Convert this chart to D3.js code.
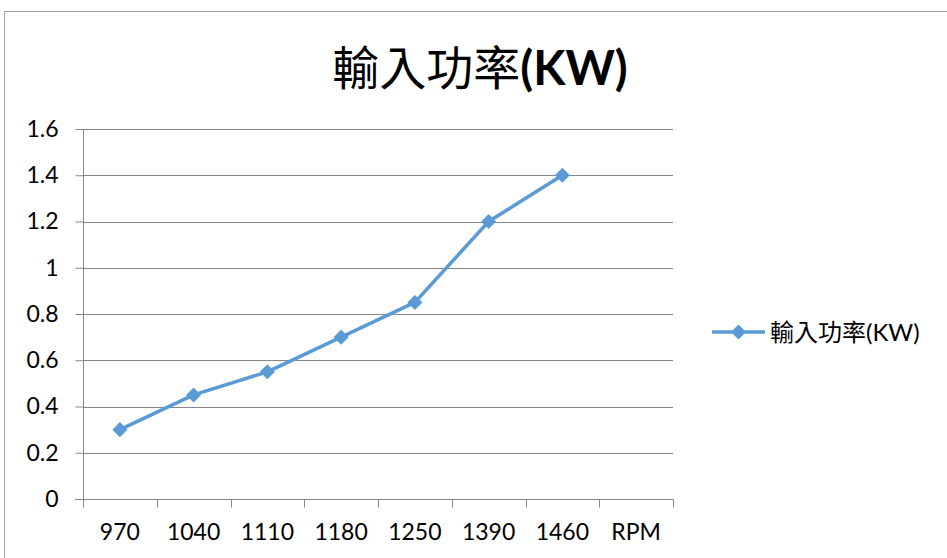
<html>

<head>
  <title>輸入功率(KW)</title>
  <meta charset="utf-8">
  <script type="text/javascript" src="https://cdn.jsdelivr.net/npm/d3@7"></script>

  <style type="text/css">
    body { margin: 0; background: #fff; }
    svg { font-family: Lato, "Noto Sans CJK TC", sans-serif; }
    .grid line { stroke: #868686; stroke-width: 1; }
    .axis path, .axis line { stroke: #868686; stroke-width: 1; }
    .axis text { fill: #000; font-size: 23px; font-family: Lato, sans-serif; }
    .line {
      fill: none;
      stroke: #5b9bd5;
      stroke-width: 3.5;
      stroke-linejoin: round;
    }
  </style>
</head>

<body>
  <script>
  // Data
  const categories = ["970", "1040", "1110", "1180", "1250", "1390", "1460", "RPM"];
  const values = [0.3, 0.45, 0.55, 0.7, 0.85, 1.2, 1.4];
  const yTicks = [0, 0.2, 0.4, 0.6, 0.8, 1, 1.2, 1.4, 1.6];
  const seriesName = "輸入功率(KW)";

  const w = 947;
  const h = 558;
  const plotLeft = 83, plotRight = 673, plotTop = 129, plotBottom = 499;

  const dataset = values.map(function(v, i) { return { cat: categories[i], value: v }; });

  const xScale = d3.scaleBand()
    .domain(categories)
    .range([plotLeft, plotRight]);

  const yScale = d3.scaleLinear()
    .domain([0, 1.6])
    .range([plotBottom, plotTop]);

  const svg = d3.select("body")
    .append("svg")
    .attr("width", w)
    .attr("height", h);

  // Chart border
  svg.append("rect")
    .attr("x", 4.5)
    .attr("y", 11.5)
    .attr("width", 960)
    .attr("height", 600)
    .attr("fill", "none")
    .attr("stroke", "#a6a6a6")
    .attr("stroke-width", 1);

  // Gridlines
  svg.append("g")
    .attr("class", "grid")
    .selectAll("line")
    .data(yTicks.slice(1))
    .enter()
    .append("line")
    .attr("x1", plotLeft)
    .attr("x2", plotRight)
    .attr("y1", function(d) { return Math.round(yScale(d)) + 0.5; })
    .attr("y2", function(d) { return Math.round(yScale(d)) + 0.5; });

  // Y axis
  const yAxis = d3.axisLeft(yScale)
    .tickValues(yTicks)
    .tickSize(8)
    .tickPadding(17)
    .tickFormat(function(d) { return String(d); });

  svg.append("g")
    .attr("class", "axis")
    .attr("transform", "translate(" + (plotLeft + 0.5) + ",0)")
    .call(yAxis)
    .call(function(g) { g.select(".domain").attr("d", "M0," + plotTop + "V" + (plotBottom + 0.5)); });

  // X axis (ticks at band boundaries)
  const xAxis = d3.axisBottom(xScale)
    .tickSize(0)
    .tickPadding(24);

  const gx = svg.append("g")
    .attr("class", "axis")
    .attr("transform", "translate(0," + (plotBottom + 0.5) + ")")
    .call(xAxis);
  gx.select(".domain").attr("d", "M" + (plotLeft - 8) + ",0H" + plotRight);
  gx.selectAll(".boundary")
    .data(categories.concat([null]))
    .enter()
    .append("line")
    .attr("class", "boundary")
    .attr("x1", function(d, i) { return Math.round(plotLeft + i * xScale.bandwidth()) + 0.5; })
    .attr("x2", function(d, i) { return Math.round(plotLeft + i * xScale.bandwidth()) + 0.5; })
    .attr("y1", 0)
    .attr("y2", 8);

  // Line
  const line = d3.line()
    .x(function(d) { return xScale(d.cat) + xScale.bandwidth() / 2; })
    .y(function(d) { return yScale(d.value); });

  svg.append("path")
    .datum(dataset)
    .attr("class", "line")
    .attr("d", line);

  const diamond = d3.symbol().type(d3.symbolDiamond2).size(145);

  svg.selectAll(".marker")
    .data(dataset)
    .enter()
    .append("path")
    .attr("class", "marker")
    .attr("d", diamond)
    .attr("fill", "#5b9bd5")
    .attr("transform", function(d) {
      return "translate(" + (xScale(d.cat) + xScale.bandwidth() / 2) + "," + yScale(d.value) + ")";
    });

  // Title
  svg.append("text")
    .attr("x", 480)
    .attr("y", 85)
    .attr("text-anchor", "middle")
    .attr("font-size", "47px")
    .attr("fill", "#000")
    .html("輸入功率<tspan font-weight='bold'>(KW)</tspan>");

  // Legend
  const legend = svg.append("g").attr("transform", "translate(712,332)");
  legend.append("line")
    .attr("x1", 0).attr("x2", 53)
    .attr("y1", 0).attr("y2", 0)
    .attr("stroke", "#5b9bd5")
    .attr("stroke-width", 3.5);
  legend.append("path")
    .attr("d", diamond)
    .attr("fill", "#5b9bd5")
    .attr("transform", "translate(26.5,0)");
  legend.append("text")
    .attr("x", 58)
    .attr("y", 9)
    .attr("font-size", "24px")
    .attr("fill", "#000")
    .text(seriesName);
  </script>
</body>

</html>
